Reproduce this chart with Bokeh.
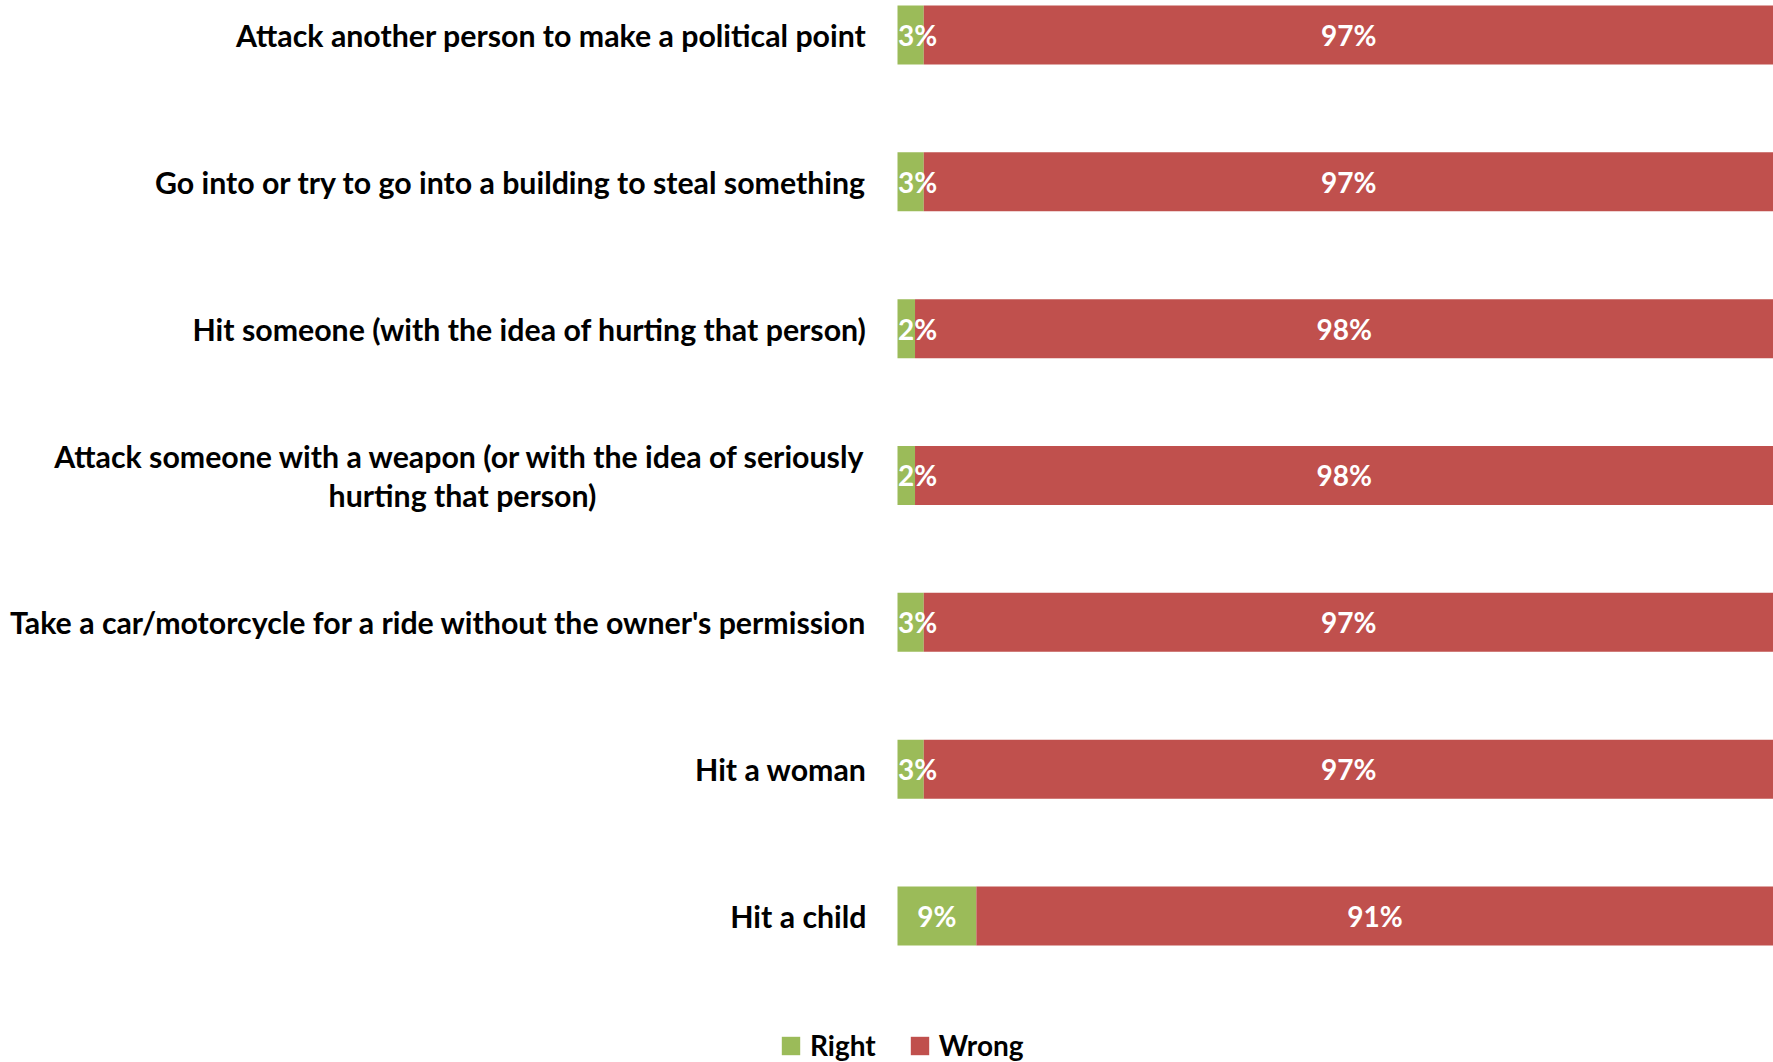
from bokeh.plotting import figure
from bokeh.models import ColumnDataSource, LabelSet, Legend, LegendItem, Range1d
from bokeh.core.properties import value
from bokeh.embed import file_html
from bokeh.resources import INLINE

categories = [
    "Attack another person to make a political point",
    "Go into or try to go into a building to steal something",
    "Hit someone (with the idea of hurting that person)",
    "Attack someone with a weapon (or with the idea of seriously\nhurting that person)",
    "Take a car/motorcycle for a ride without the owner's permission",
    "Hit a woman",
    "Hit a child",
]
right_vals = [3, 3, 2, 2, 3, 3, 9]
wrong_vals = [97, 97, 98, 98, 97, 97, 91]
series_names = ["Right", "Wrong"]
colors = ["#9BBB59", "#C0504D"]

FONT = "Lato"
W, H = 1773, 1062
plot_left_px = 897          # pixel where the bars begin
row_px = 146.83             # pixels per row
first_center_px = 34.5      # pixel centre of first bar
bar_px = 59.0
line_px = 38.5              # line spacing of wrapped category labels
label_gap_px = 31           # gap between category label and bars
wrap_center_px = -435       # centre of wrapped label lines, relative to bar start
min_label_center = 2.3

rows = list(range(len(categories)))
x_start = -plot_left_px * 100.0 / (W - plot_left_px)
y_end = -first_center_px / row_px
y_start = y_end + H / row_px

src = ColumnDataSource(dict(
    y=rows,
    zero=[0] * len(rows),
    r=right_vals,
    w_left=right_vals,
    w_right=[a + b for a, b in zip(right_vals, wrong_vals)],
    r_lab=[f"{v}%" for v in right_vals],
    w_lab=[f"{v}%" for v in wrong_vals],
    r_x=[max(v / 2, min_label_center) for v in right_vals],
    w_x=[a + b / 2 for a, b in zip(right_vals, wrong_vals)],
))

first_lines = dict(x=[], y=[], t=[])
more_lines = dict(x=[], y=[], t=[])
for row, cat in zip(rows, categories):
    lines = cat.split("\n")
    n = len(lines)
    for k, line in enumerate(lines):
        yy = row + (k - (n - 1) / 2) * line_px / row_px
        target = first_lines if k == 0 else more_lines
        target["x"].append(0)
        target["y"].append(yy)
        target["t"].append(line)

p = figure(width=W, height=H, output_backend="svg", toolbar_location=None,
           x_range=Range1d(x_start, 100), y_range=Range1d(y_start, y_end),
           min_border=0, x_axis_location=None, y_axis_location=None)
p.outline_line_color = None
p.grid.visible = False
p.background_fill_color = "white"
p.border_fill_color = "white"

r1 = p.hbar(y="y", left="zero", right="r", height=bar_px / row_px, source=src,
            fill_color=colors[0], line_color=None)
r2 = p.hbar(y="y", left="w_left", right="w_right", height=bar_px / row_px, source=src,
            fill_color=colors[1], line_color=None)

common = dict(text_font=value(FONT), text_font_style="bold", text_baseline="middle")
p.add_layout(LabelSet(x="r_x", y="y", text="r_lab", source=src, text_align="center",
                      text_color="white", text_font_size="28px", **common))
p.add_layout(LabelSet(x="w_x", y="y", text="w_lab", source=src, text_align="center",
                      text_color="white", text_font_size="28px", **common))
p.add_layout(LabelSet(x="x", y="y", text="t", source=ColumnDataSource(first_lines),
                      text_align="right", x_offset=-label_gap_px, text_color="black",
                      text_font_size="30.3px", **common))
p.add_layout(LabelSet(x="x", y="y", text="t", source=ColumnDataSource(more_lines),
                      text_align="center", x_offset=wrap_center_px, text_color="black",
                      text_font_size="30.3px", **common))

legend = Legend(items=[LegendItem(label=series_names[0], renderers=[r1]),
                       LegendItem(label=series_names[1], renderers=[r2])],
                orientation="horizontal", location=(779, 0),
                border_line_color=None, background_fill_alpha=0,
                glyph_width=23, glyph_height=23, label_standoff=8, spacing=32,
                padding=0, margin=0,
                label_text_font=FONT, label_text_font_style="bold",
                label_text_font_size="28px", label_text_color="black")
p.add_layout(legend, "center")

open("out.html", "w").write(file_html(p, INLINE))
